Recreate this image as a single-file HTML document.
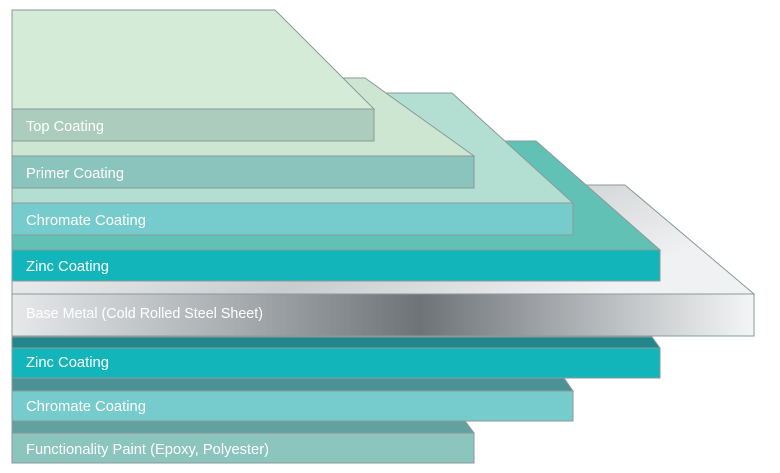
<!DOCTYPE html>
<html><head><style>body{margin:0;background:#fff}svg{display:block}text{font-family:"Liberation Sans",sans-serif;font-size:14.5px;fill:#fff}</style></head><body>
<svg width="780" height="473" viewBox="0 0 780 473" xmlns="http://www.w3.org/2000/svg">
<defs>
<linearGradient id="m" x1="0" x2="1" y1="0" y2="0">
<stop offset="0" stop-color="#e6e8ea"/><stop offset="0.3" stop-color="#a9adb0"/><stop offset="0.55" stop-color="#6e7377"/><stop offset="0.8" stop-color="#b9bcbf"/><stop offset="1" stop-color="#f4f5f6"/></linearGradient>
<linearGradient id="mt" x1="0" x2="1" y1="0" y2="0.3">
<stop offset="0" stop-color="#fff"/><stop offset="0.6" stop-color="#c9ccce"/><stop offset="1" stop-color="#f0f1f2"/></linearGradient>
</defs>
<g stroke="#8a9a98" stroke-width="1">
<polygon points="12,185 625,185 754,294 12,294" fill="url(#mt)"/>
<rect x="12" y="294" width="742" height="42" fill="url(#m)"/>
<polygon points="12,141 536,141 660,250 12,250" fill="#62c1b5"/>
<rect x="12" y="250" width="648" height="31" fill="#12b5ba"/>
<polygon points="12,93 452,93 573,203 12,203" fill="#b3dfd2"/>
<rect x="12" y="203" width="561" height="32" fill="#76cccc"/>
<polygon points="12,78 365,78 474,156 12,156" fill="#cde6d2"/>
<rect x="12" y="156" width="462" height="32" fill="#8ac4bc"/>
<polygon points="12,10 275,10 374,109 12,109" fill="#d4ebd8"/>
<rect x="12" y="109" width="362" height="32" fill="#accdbe"/>
<polygon points="12,337 652,337 660,348 12,348" fill="#23868c"/>
<rect x="12" y="348" width="648" height="30" fill="#12b5ba"/>
<polygon points="12,378 564,378 573,391 12,391" fill="#4b9195"/>
<rect x="12" y="391" width="561" height="30" fill="#76cccc"/>
<polygon points="12,421 465,421 474,433 12,433" fill="#62a19f"/>
<rect x="12" y="433" width="462" height="30" fill="#8cc4be"/>
</g>
<g lengthAdjust="spacingAndGlyphs">
<text x="26" y="131" textLength="78" lengthAdjust="spacingAndGlyphs">Top Coating</text>
<text x="26" y="178" textLength="98" lengthAdjust="spacingAndGlyphs">Primer Coating</text>
<text x="26" y="225" textLength="120" lengthAdjust="spacingAndGlyphs">Chromate Coating</text>
<text x="26" y="271" textLength="83" lengthAdjust="spacingAndGlyphs">Zinc Coating</text>
<text x="26" y="318" textLength="237" lengthAdjust="spacingAndGlyphs">Base Metal (Cold Rolled Steel Sheet)</text>
<text x="26" y="367" textLength="83" lengthAdjust="spacingAndGlyphs">Zinc Coating</text>
<text x="26" y="411" textLength="120" lengthAdjust="spacingAndGlyphs">Chromate Coating</text>
<text x="26" y="454" textLength="243" lengthAdjust="spacingAndGlyphs">Functionality Paint (Epoxy, Polyester)</text>
</g>
</svg>
</body></html>
